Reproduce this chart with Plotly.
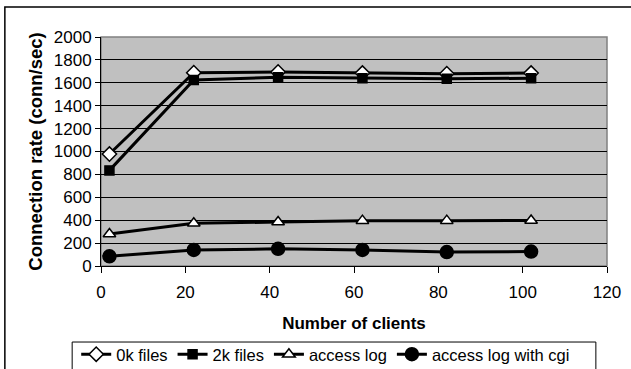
import plotly.graph_objects as go

# Number of concurrent clients
clients = [2, 22, 42, 62, 82, 102]

# Connection rate (conn/sec) for each configuration
files_0k = [978, 1688, 1695, 1685, 1680, 1685]
files_2k = [835, 1625, 1648, 1640, 1635, 1640]
access_log = [280, 373, 384, 396, 396, 398]
access_log_cgi = [85, 140, 150, 140, 122, 126]

series_names = ["0k files", "2k files", "access log", "access log with cgi"]

x_ticks = [0, 20, 40, 60, 80, 100, 120]
y_ticks = [0, 200, 400, 600, 800, 1000, 1200, 1400, 1600, 1800, 2000]

FONT = "Liberation Sans, Arial, sans-serif"

styles = [
    dict(symbol="diamond", size=11, color="white"),
    dict(symbol="square", size=9, color="black"),
    dict(symbol="triangle-up", size=11, color="white"),
    dict(symbol="circle", size=13, color="black"),
]

fig = go.Figure()
for name, ys, st in zip(series_names, [files_0k, files_2k, access_log, access_log_cgi], styles):
    fig.add_trace(go.Scatter(
        x=clients, y=ys, name=name, mode="lines+markers",
        line=dict(color="black", width=3),
        marker=dict(symbol=st["symbol"], size=st["size"], color=st["color"],
                    line=dict(color="black", width=1.5)),
    ))

fig.update_layout(
    width=631, height=369,
    margin=dict(l=101, r=24, t=37, b=103, autoexpand=False),
    paper_bgcolor="white",
    plot_bgcolor="#C0C0C0",
    font=dict(family=FONT, size=17, color="black"),
    showlegend=True,
    legend=dict(
        orientation="h", x=-0.049, y=-0.310, xanchor="left", yanchor="top",
        borderwidth=0, bgcolor="rgba(0,0,0,0)",
        font=dict(family=FONT, size=16.5), itemwidth=30, tracegroupgap=0,
    ),
    xaxis=dict(
        range=[0, 120], tickvals=x_ticks, ticks="outside", ticklen=6,
        tickcolor="black", showline=True, linecolor="black", linewidth=1,
        showgrid=False, zeroline=False, ticklabelstandoff=5,
        title=dict(text="<b>Number of clients</b>", font=dict(size=17), standoff=15),
        tickfont=dict(size=17),
    ),
    yaxis=dict(
        range=[0, 2000], tickvals=y_ticks, ticks="outside", ticklen=5,
        tickcolor="black", showline=True, linecolor="black", linewidth=1,
        showgrid=True, gridcolor="black", gridwidth=1, zeroline=False,
        title=dict(text="<b>Connection rate (conn/sec)</b>", font=dict(size=18.5), standoff=6),
        tickfont=dict(size=17),
    ),
    shapes=[
        # gray frame around the plotting area
        dict(type="rect", xref="paper", yref="paper", x0=0, x1=1, y0=0, y1=1,
             line=dict(color="#808080", width=1.5), layer="below"),
        # outer chart border
        dict(type="rect", xref="paper", yref="paper", x0=-0.19, x1=1.2, y0=-0.6, y1=1.131,
             line=dict(color="black", width=1.5), layer="below"),
        # legend frame
        dict(type="rect", xref="paper", yref="paper", x0=-0.057, x1=0.978, y0=-0.5, y1=-0.332,
             line=dict(color="black", width=1), fillcolor="white", layer="below"),
    ],
)

fig.write_html("out.html")
